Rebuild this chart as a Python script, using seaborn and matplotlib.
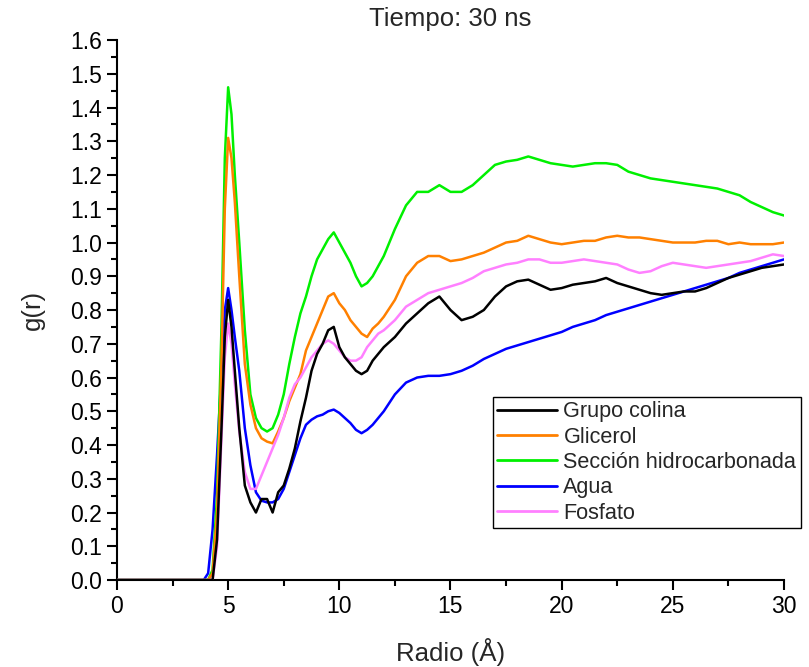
import numpy as np
import pandas as pd
import seaborn as sns
import matplotlib.pyplot as plt

# radio (Å)
radio = [0, 3.9, 4.1, 4.3, 4.5, 4.7, 4.85, 5.0, 5.15, 5.3, 5.5,
         5.75, 6.0, 6.25, 6.5, 6.75, 7.0, 7.25, 7.5, 7.75, 8.0, 8.25, 8.5, 8.75,
         9.0, 9.25, 9.5, 9.75, 10.0, 10.25, 10.5, 10.75, 11.0, 11.25, 11.5, 11.75, 12.0,
         12.5, 13.0, 13.5, 14.0, 14.5, 15.0, 15.5, 16.0, 16.5, 17.0, 17.5, 18.0,
         18.5, 19.0, 19.5, 20.0, 20.5, 21.0, 21.5, 22.0, 22.5, 23.0, 23.5, 24.0,
         24.5, 25.0, 25.5, 26.0, 26.5, 27.0, 27.5, 28.0, 28.5, 29.0, 29.5, 30.0]

colina = [0, 0, 0, 0.0, 0.12, 0.45, 0.72, 0.83, 0.75, 0.62, 0.45,
          0.28, 0.23, 0.2, 0.24, 0.24, 0.2, 0.26, 0.28, 0.33, 0.39, 0.47, 0.54, 0.62,
          0.67, 0.7, 0.74, 0.75, 0.69, 0.66, 0.64, 0.62, 0.61, 0.62, 0.65, 0.67, 0.69,
          0.72, 0.76, 0.79, 0.82, 0.84, 0.8, 0.77, 0.78, 0.8, 0.84, 0.87, 0.885,
          0.89, 0.875, 0.86, 0.865, 0.875, 0.88, 0.885, 0.895, 0.88, 0.87, 0.86, 0.85,
          0.845, 0.85, 0.855, 0.855, 0.865, 0.88, 0.895, 0.905, 0.915, 0.925, 0.93, 0.935]

glicerol = [0, 0, 0, 0.02, 0.2, 0.65, 1.1, 1.31, 1.25, 1.12, 0.9,
            0.64, 0.52, 0.45, 0.42, 0.41, 0.405, 0.44, 0.48, 0.53, 0.57, 0.61, 0.68, 0.72,
            0.76, 0.8, 0.84, 0.85, 0.82, 0.8, 0.77, 0.75, 0.73, 0.72, 0.745, 0.76, 0.78,
            0.83, 0.9, 0.94, 0.96, 0.96, 0.945, 0.95, 0.96, 0.97, 0.985, 1.0, 1.005,
            1.02, 1.01, 1.0, 0.995, 1.0, 1.005, 1.005, 1.015, 1.02, 1.015, 1.015, 1.01,
            1.005, 1.0, 1.0, 1.0, 1.005, 1.005, 0.995, 1.0, 0.995, 0.995, 0.995, 1.0]

hidrocarb = [0, 0, 0, 0.03, 0.25, 0.75, 1.25, 1.46, 1.38, 1.2, 1.0,
             0.74, 0.55, 0.48, 0.45, 0.44, 0.45, 0.49, 0.55, 0.64, 0.72, 0.79, 0.84, 0.9,
             0.95, 0.98, 1.01, 1.03, 1.0, 0.97, 0.94, 0.9, 0.87, 0.88, 0.9, 0.93, 0.96,
             1.04, 1.11, 1.15, 1.15, 1.17, 1.15, 1.15, 1.17, 1.2, 1.23, 1.24, 1.245,
             1.255, 1.245, 1.235, 1.23, 1.225, 1.23, 1.235, 1.235, 1.23, 1.21, 1.2, 1.19,
             1.185, 1.18, 1.175, 1.17, 1.165, 1.16, 1.15, 1.14, 1.12, 1.105, 1.09, 1.08]

agua = [0, 0, 0.02, 0.15, 0.37, 0.62, 0.8, 0.865, 0.8, 0.72, 0.62,
        0.45, 0.34, 0.26, 0.235, 0.23, 0.23, 0.24, 0.27, 0.32, 0.37, 0.42, 0.46, 0.475,
        0.485, 0.49, 0.5, 0.505, 0.495, 0.48, 0.465, 0.445, 0.435, 0.445, 0.46, 0.48, 0.5,
        0.55, 0.585, 0.6, 0.605, 0.605, 0.61, 0.62, 0.635, 0.655, 0.67, 0.685, 0.695,
        0.705, 0.715, 0.725, 0.735, 0.75, 0.76, 0.77, 0.785, 0.795, 0.805, 0.815, 0.825,
        0.835, 0.845, 0.855, 0.865, 0.875, 0.885, 0.895, 0.91, 0.92, 0.93, 0.94, 0.95]

fosfato = [0, 0, 0, 0.0, 0.1, 0.42, 0.66, 0.76, 0.7, 0.58, 0.44,
           0.32, 0.27, 0.27, 0.31, 0.35, 0.39, 0.43, 0.48, 0.54, 0.58, 0.6, 0.63, 0.66,
           0.68, 0.7, 0.71, 0.7, 0.68, 0.66, 0.65, 0.65, 0.66, 0.69, 0.71, 0.73, 0.74,
           0.77, 0.81, 0.83, 0.85, 0.86, 0.87, 0.88, 0.895, 0.915, 0.925, 0.935, 0.94,
           0.95, 0.95, 0.94, 0.94, 0.945, 0.95, 0.945, 0.94, 0.935, 0.92, 0.91, 0.915,
           0.93, 0.94, 0.935, 0.93, 0.925, 0.93, 0.935, 0.94, 0.945, 0.955, 0.965, 0.96]

grupos = ['Grupo colina', 'Glicerol', 'Sección hidrocarbonada', 'Agua', 'Fosfato']
colores = ['#000000', '#FF8000', '#00F000', '#0000FF', '#FF80FF']
series = [colina, glicerol, hidrocarb, agua, fosfato]

df = pd.concat([pd.DataFrame({'r': radio, 'g': s, 'grupo': n}) for n, s in zip(grupos, series)])

sns.set_style('ticks')
plt.rcParams['font.family'] = ['Liberation Sans', 'DejaVu Sans']

fig = plt.figure(figsize=(8.09, 6.67), dpi=100)
ax = fig.add_axes([0.1446, 0.1304, 0.8245, 0.8096])

# orden de dibujo: el negro encima
orden_dibujo = ['Agua', 'Sección hidrocarbonada', 'Glicerol', 'Fosfato', 'Grupo colina']
sns.lineplot(data=df, x='r', y='g', hue='grupo', hue_order=grupos,
             palette=dict(zip(grupos, colores)), linewidth=1.8, ax=ax, legend=True)
for ln, n in zip(ax.lines, grupos):
    ln.set_zorder(3 + orden_dibujo.index(n))

ax.set_xlim(0, 30)
ax.set_ylim(0, 1.6)
ax.set_xticks(np.arange(0, 31, 5))
ax.set_xticks(np.arange(0, 30.1, 2.5), minor=True)
ax.set_yticks(np.arange(0, 1.61, 0.1))
ax.set_yticks(np.arange(0, 1.61, 0.05), minor=True)
ax.set_yticklabels([f'{v:.1f}' for v in np.arange(0, 1.61, 0.1)])
sns.despine(ax=ax)
for s in ['left', 'bottom']:
    ax.spines[s].set_linewidth(1.5)
    ax.spines[s].set_color('black')
ax.tick_params(which='major', direction='out', length=7, width=1.5, labelsize=16.5,
               colors='black', pad=4)
ax.tick_params(which='minor', direction='out', length=4, width=1.5, colors='black')

ax.set_xlabel('Radio (Å)', fontsize=18.5, labelpad=14)
ax.set_ylabel('g(r)', fontsize=18.5, labelpad=18)
ax.set_title('Tiempo: 30 ns', fontsize=18.5, pad=10)

leg = ax.legend(loc='upper left', bbox_to_anchor=(493 / 809, 1 - 397 / 667),
                bbox_transform=fig.transFigure, fontsize=15.6, frameon=True,
                fancybox=False, edgecolor='black', framealpha=1,
                handlelength=2.75, handletextpad=0.3, labelspacing=0.2,
                borderpad=0.2, borderaxespad=0)
leg.get_frame().set_linewidth(1.0)
for h in leg.get_lines():
    h.set_linewidth(2)

fig.savefig('out.png', dpi=100)
